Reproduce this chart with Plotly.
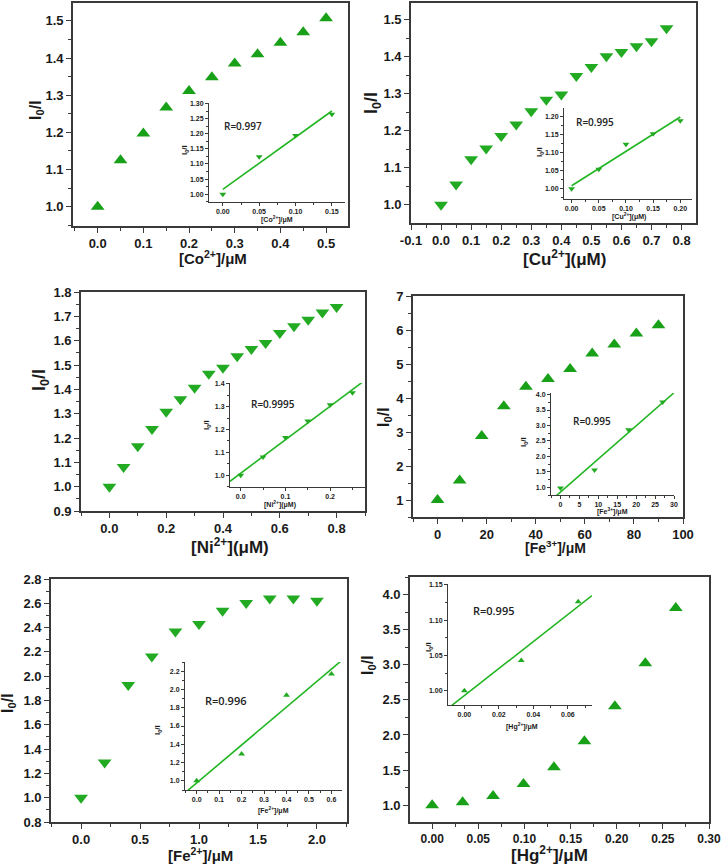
import numpy as np
import plotly.graph_objects as go

W, H = 724, 866

# ---------------- data ----------------
co_x = [0.0, 0.05, 0.10, 0.15, 0.20, 0.25, 0.30, 0.35, 0.40, 0.45, 0.50]
co_y = [1.000, 1.125, 1.197, 1.267, 1.311, 1.348, 1.385, 1.410, 1.441, 1.469, 1.507]
co_in_x = [0.0, 0.05, 0.10, 0.15]
co_in_y = [1.000, 1.124, 1.194, 1.265]

cu_x = [0.0, 0.05, 0.10, 0.15, 0.20, 0.25, 0.30, 0.35, 0.40, 0.45, 0.50, 0.55, 0.60, 0.65, 0.70, 0.75]
cu_y = [1.000, 1.055, 1.123, 1.152, 1.186, 1.217, 1.253, 1.284, 1.298, 1.348, 1.372, 1.401, 1.413, 1.428, 1.442, 1.477]
cu_in_x = [0.0, 0.05, 0.10, 0.15, 0.20]
cu_in_y = [1.000, 1.054, 1.123, 1.152, 1.188]

ni_x = [0.0, 0.05, 0.10, 0.15, 0.20, 0.25, 0.30, 0.35, 0.40, 0.45, 0.50, 0.55, 0.60, 0.65, 0.70, 0.75, 0.80]
ni_y = [1.000, 1.081, 1.166, 1.237, 1.308, 1.359, 1.407, 1.464, 1.489, 1.536, 1.566, 1.590, 1.632, 1.659, 1.686, 1.716, 1.738]
ni_in_x = [0.0, 0.05, 0.10, 0.15, 0.20, 0.25]
ni_in_y = [1.000, 1.080, 1.165, 1.237, 1.308, 1.360]

fe3_x = [0, 9, 18, 27, 36, 45, 54, 63, 72, 81, 90]
fe3_y = [1.00, 1.57, 2.88, 3.76, 4.33, 4.56, 4.85, 5.31, 5.57, 5.90, 6.14]
fe3_in_x = [0, 9, 18, 27]
fe3_in_y = [0.98, 1.56, 2.86, 3.76]

fe2_x = [0.0, 0.2, 0.4, 0.6, 0.8, 1.0, 1.2, 1.4, 1.6, 1.8, 2.0]
fe2_y = [1.00, 1.29, 1.928, 2.162, 2.368, 2.429, 2.539, 2.602, 2.64, 2.64, 2.62]
fe2_in_x = [0.0, 0.2, 0.4, 0.6]
fe2_in_y = [1.00, 1.294, 1.935, 2.17]

hg_x = [0.0, 0.033, 0.066, 0.099, 0.132, 0.165, 0.198, 0.231, 0.264]
hg_y = [1.00, 1.04, 1.13, 1.30, 1.54, 1.91, 2.41, 3.02, 3.81]
hg_in_x = [0.0, 0.033, 0.066]
hg_in_y = [1.000, 1.043, 1.126]

r_labels = ["R=0.997", "R=0.995", "R=0.9995", "R=0.995", "R=0.996", "R=0.995"]

# ---------------- styling ----------------
FONT = "Arial, Liberation Sans, sans-serif"
RFONT = "Open Sans, Noto Sans, sans-serif"
AX = "#3a3a3a"
G_UP = "#18a018"
G_DN = "#22aa22"
G_LINE = "#22b522"

fig = go.Figure()
layout = {}
annotations = []
counter = [0]


def new_axes(box, xr, yr, xdt, ydt, xfmt, yfmt, fs, main, xminor=None, yminor=None,
             xtickvals=None, xticktext=None, xfs=None):
    counter[0] += 1
    i = counter[0]
    xn = "xaxis" if i == 1 else f"xaxis{i}"
    yn = "yaxis" if i == 1 else f"yaxis{i}"
    xref = "x" if i == 1 else f"x{i}"
    yref = "y" if i == 1 else f"y{i}"
    x0, x1, y0, y1 = box
    common = dict(showgrid=False, zeroline=False, showline=True, linecolor=AX,
                  linewidth=1.6 if main else 1.0, ticks="outside",
                  ticklen=5 if main else 3, tickwidth=1.4 if main else 0.8,
                  tickcolor=AX, mirror=main, automargin=False,
                  tickfont=dict(family=FONT, size=fs, color="#1a1a1a", weight="bold"))
    xa = dict(common, domain=[x0 / W, x1 / W], range=xr, dtick=xdt, tickformat=xfmt,
              anchor=yref, tick0=0)
    if xfs:
        xa["tickfont"] = dict(family=FONT, size=xfs, color="#1a1a1a", weight="bold")
    ya = dict(common, domain=[1 - y1 / H, 1 - y0 / H], range=yr, dtick=ydt, tickformat=yfmt,
              anchor=xref, tick0=0)
    if xtickvals is not None:
        xa.update(tickmode="array", tickvals=xtickvals, ticktext=xticktext)
        xa.pop("dtick")
    if xminor:
        xa["minor"] = dict(ticks="outside", ticklen=3 if main else 2, dtick=xminor,
                           tickcolor=AX, tickwidth=1.0, tick0=0)
    if yminor:
        ya["minor"] = dict(ticks="outside", ticklen=3 if main else 2, dtick=yminor,
                           tickcolor=AX, tickwidth=1.0, tick0=0)
    layout[xn] = xa
    layout[yn] = ya
    return xref, yref


def ann(text, px, py, size, angle=0, xanchor="center", bold=True, color="#1a1a1a",
        family=FONT, weight=None):
    f = dict(family=family, size=size, color=color)
    if weight:
        f["weight"] = weight
    annotations.append(dict(text=f"<b>{text}</b>" if bold else text, x=px / W, y=1 - py / H,
                            xref="paper", yref="paper", showarrow=False,
                            xanchor=xanchor, yanchor="middle", textangle=angle, font=f))


def xtitle_ann(text, px, py, size):
    # the superscript enlarges the text box upward; compensate a little
    ann(text, px, py - 0.2 * size, size)


def main_panel(box, xs, ys, symbol, color, xr, yr, xdt, ydt, xfmt, yfmt, xminor, yminor,
               xtitle, xt_pos, xt_size, yt_pos, yt_size, xtickvals=None, xticktext=None,
               xfs=None):
    xr_, yr_ = new_axes(box, xr, yr, xdt, ydt, xfmt, yfmt, 13, True, xminor, yminor,
                        xtickvals, xticktext, xfs)
    fig.add_trace(go.Scatter(x=xs, y=ys, mode="markers", xaxis=xr_, yaxis=yr_,
                             marker=dict(symbol=symbol, size=12, color=color,
                                         line=dict(width=0)),
                             showlegend=False, cliponaxis=False))
    xtitle_ann(xtitle, xt_pos[0], xt_pos[1], xt_size)
    ann("I<sub>0</sub>/I", yt_pos[0], yt_pos[1], yt_size, angle=-90)


def inset(box, xs, ys, symbol, xr, yr, xdt, ydt, xfmt, yfmt, xminor, yminor,
          line_span, xtitle, xt_pos, yt_pos, rlabel, r_pos, r_size):
    xr_, yr_ = new_axes(box, xr, yr, xdt, ydt, xfmt, yfmt, 7, False, xminor, yminor)
    slope, inter = np.polyfit(xs, ys, 1)
    lx = np.array(line_span)
    fig.add_trace(go.Scatter(x=lx, y=slope * lx + inter, mode="lines", xaxis=xr_, yaxis=yr_,
                             line=dict(color=G_LINE, width=1.6), showlegend=False))
    fig.add_trace(go.Scatter(x=xs, y=ys, mode="markers", xaxis=xr_, yaxis=yr_,
                             marker=dict(symbol=symbol, size=6, color=G_DN, line=dict(width=0)),
                             showlegend=False, cliponaxis=False))
    ann(xtitle, xt_pos[0], xt_pos[1] + 1.5, 7)
    ann("I<sub>0</sub>/I", yt_pos[0], yt_pos[1], 8, angle=-90)
    ann(rlabel, r_pos[0], r_pos[1], r_size, xanchor="left", bold=False, color="#222",
        family=RFONT, weight=600)


# ---------- Panel 1: Co ----------
main_panel((73, 348, 3, 226), co_x, co_y, "triangle-up", G_UP,
           [-0.054, 0.548], [0.948, 1.548], 0.1, 0.1, ".1f", ".1f", 0.05, 0.05,
           "[Co<sup>2+</sup>]/μM", (213, 260), 15, (37, 110), 16)
inset((209, 345, 103, 202), co_in_x, co_in_y, "triangle-down",
      [-0.019, 0.168], [0.974, 1.302], 0.05, 0.05, ".2f", ".2f", 0.025, 0.025,
      [0.0, 0.15], "[Co<sup>2+</sup>]/μM", (277, 218), (185, 150),
      r_labels[0], (222, 126), 10)

# ---------- Panel 2: Cu ----------
main_panel((411, 696, 3, 223), cu_x, cu_y, "triangle-down", G_DN,
           [-0.1, 0.848], [0.951, 1.545], 0.1, 0.1, ".1f", ".1f", 0.05, 0.05,
           "[Cu<sup>2+</sup>](μM)", (564, 261), 17, (372, 103), 18,
           xtickvals=[-0.1, 0.0, 0.1, 0.2, 0.3, 0.4, 0.5, 0.6, 0.7, 0.8],
           xticktext=["-0.1", "0.0", "0.1", "0.2", "0.3", "0.4", "0.5", "0.6", "0.7", "0.8"])
inset((564, 692, 108, 199), cu_in_x, cu_in_y, "triangle-down",
      [-0.014, 0.2215], [0.972, 1.223], 0.05, 0.05, ".2f", ".2f", 0.025, 0.025,
      [0.0, 0.2], "[Cu<sup>2+</sup>](μM)", (629, 215), (540, 152),
      r_labels[1], (574, 122), 10)

# ---------- Panel 3: Ni ----------
main_panel((81, 365, 292, 511), ni_x, ni_y, "triangle-down", G_DN,
           [-0.1, 0.9], [0.9, 1.8], 0.2, 0.1, ".1f", ".1f", 0.1, 0.05,
           "[Ni<sup>2+</sup>](μM)", (230, 549), 17, (40, 380), 18)
inset((230, 365, 383, 487), ni_in_x, ni_in_y, "triangle-down",
      [-0.024, 0.278], [0.949, 1.403], 0.1, 0.1, ".1f", ".1f", 0.05, 0.05,
      [-0.024, 0.278], "[Ni<sup>2+</sup>](μM)", (280, 503), (207, 425),
      r_labels[2], (249, 404), 10)

# ---------- Panel 4: Fe3+ ----------
main_panel((413, 683, 296, 517), fe3_x, fe3_y, "triangle-up", G_UP,
           [-10, 100], [0.5, 7], 20, 1, "d", "d", 10, 0.5,
           "[Fe<sup>3+</sup>]/μM", (555, 550), 14, (384, 417), 16)
inset((551, 674, 393, 495), fe3_in_x, fe3_in_y, "triangle-down",
      [-2.5, 30], [0.75, 4.05], 5, 0.5, "d", ".1f", 2.5, 0.25,
      [-2.5, 30], "[Fe<sup>3+</sup>]/μM", (612, 510), (524, 442),
      r_labels[3], (571, 421), 10)

# ---------- Panel 5: Fe2+ ----------
main_panel((51, 347, 579, 822), fe2_x, fe2_y, "triangle-down", G_DN,
           [-0.255, 2.255], [0.8, 2.8], 0.5, 0.2, ".1f", ".1f", 0.25, 0.1,
           "[Fe<sup>2+</sup>]/μM", (200, 857), 15, (8, 703), 16)
inset((185, 342, 662, 790), fe2_in_x, fe2_in_y, "triangle-up",
      [-0.052, 0.647], [0.9, 2.3], 0.1, 0.2, ".1f", ".1f", 0.05, 0.1,
      [-0.052, 0.647], "[Fe<sup>2+</sup>]/μM", (273, 809), (158, 730),
      r_labels[4], (203, 700), 11)

# ---------- Panel 6: Hg ----------
main_panel((410, 709, 577, 822), hg_x, hg_y, "triangle-up", G_UP,
           [-0.024, 0.30], [0.76, 4.25], 0.05, 0.5, ".2f", ".1f", 0.025, 0.25,
           "[Hg<sup>2+</sup>]/μM", (549, 857), 17, (368, 665), 16, xfs=12)
inset((448, 592, 584, 705), hg_in_x, hg_in_y, "triangle-up",
      [-0.0095, 0.074], [0.98, 1.151], 0.02, 0.05, ".2f", ".2f", 0.01, 0.025,
      [-0.0095, 0.074], "[Hg<sup>2+</sup>]/μM", (522, 725), (429, 647),
      r_labels[5], (471, 610), 11)

fig.update_layout(
    template="none",
    width=W, height=H,
    margin=dict(l=0, r=0, t=0, b=0, pad=0),
    paper_bgcolor="white",
    plot_bgcolor="rgba(0,0,0,0)",
    showlegend=False,
    annotations=annotations,
    **layout,
)

fig.write_html("out.html",
               config={"displayModeBar": False},
               post_script="document.body.style.margin='0';document.body.style.overflow='hidden';")
